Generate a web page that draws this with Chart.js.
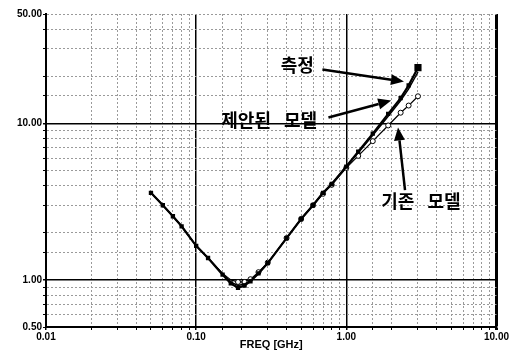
<!DOCTYPE html>
<html lang="ko">
<head>
<meta charset="UTF-8">
<title>FREQ [GHz]</title>
<script src="https://cdn.jsdelivr.net/npm/chart.js"></script>
<style>
  html, body { margin: 0; padding: 0; background: #fff; }
  #wrap { width: 510px; height: 361px; position: relative; }
</style>
</head>
<body>
<div id="wrap"><canvas id="chart"></canvas></div>
<script>
// frequency points (GHz) and the three curves
const freqs    = [0.05, 0.06, 0.07, 0.08, 0.10, 0.12, 0.15, 0.17, 0.19, 0.21, 0.23, 0.26, 0.30, 0.40, 0.50, 0.60, 0.70, 0.80, 1.00, 1.20, 1.50, 1.90, 2.30, 2.60, 3.00];
const measured = [3.6, 3.0, 2.55, 2.2, 1.65, 1.38, 1.08, 0.95, 0.89, 0.92, 0.98, 1.10, 1.28, 1.85, 2.45, 3.0, 3.6, 4.1, 5.3, 6.6, 8.6, 11.5, 14.5, 17.5, 22.7];
const proposed = [3.6, 3.0, 2.55, 2.2, 1.65, 1.38, 1.09, 0.97, 0.92, 0.94, 0.99, 1.10, 1.28, 1.85, 2.45, 3.0, 3.6, 4.1, 5.3, 6.5, 8.4, 11.1, 14.0, 16.6, 21.3];
const existing = [3.6, 3.0, 2.55, 2.2, 1.65, 1.38, 1.10, 1.00, 0.97, 0.97, 1.01, 1.12, 1.29, 1.85, 2.45, 3.0, 3.55, 4.05, 5.2, 6.2, 7.7, 9.7, 11.7, 13.0, 14.9];

const xTickLabels = ['0.01', '0.10', '1.00', '10.00'];
const yTickLabels = ['0.50', '1.00', '10.00', '50.00'];
const xTitle = 'FREQ [GHz]';

// callouts, anchored in data units (GHz, value)
const notes = [
  { text: '측정',       x: 0.366, y: 23.4, fromX: 0.693, fromY: 22.1, toX: 2.42, toY: 18.5 },
  { text: '제안된 모델', x: 0.147, y: 10.45, fromX: 0.76, fromY: 10.9, toX: 1.99, toY: 14.0 },
  { text: '기존 모델',   x: 1.71, y: 3.19, fromX: 2.46, fromY: 3.74, toX: 2.21, toY: 9.43 }
];

function pts(ys) {
  return freqs.map((f, i) => ({ x: f, y: ys[i] }));
}

function labelFor(list, v) {
  const s = list.find(l => Math.abs(Number(l) / v - 1) < 1e-6);
  return s === undefined ? '' : s;
}

function isDecade(v) {
  const l = Math.log10(v);
  return Math.abs(l - Math.round(l)) < 1e-6;
}

const tickFont = { family: '"Liberation Sans", Arial, sans-serif', size: 10, weight: 'bold' };

const callouts = {
  id: 'callouts',
  afterDatasetsDraw(chart) {
    const { ctx, scales } = chart;
    const xs = scales.x, ys = scales.y;
    ctx.save();
    ctx.fillStyle = '#000';
    ctx.strokeStyle = '#000';
    notes.forEach(n => {
      // arrow
      const x1 = xs.getPixelForValue(n.fromX), y1 = ys.getPixelForValue(n.fromY);
      const x2 = xs.getPixelForValue(n.toX), y2 = ys.getPixelForValue(n.toY);
      const a = Math.atan2(y2 - y1, x2 - x1);
      const head = 13, half = 5.5;
      const bx = x2 - head * Math.cos(a), by = y2 - head * Math.sin(a);
      ctx.lineWidth = 2.5;
      ctx.beginPath();
      ctx.moveTo(x1, y1);
      ctx.lineTo(bx, by);
      ctx.stroke();
      ctx.beginPath();
      ctx.moveTo(x2, y2);
      ctx.lineTo(bx + half * Math.sin(a), by - half * Math.cos(a));
      ctx.lineTo(bx - half * Math.sin(a), by + half * Math.cos(a));
      ctx.closePath();
      ctx.fill();

      // text, words spread a little wider like the original
      ctx.font = 'bold 18px "Noto Sans CJK KR", sans-serif';
      ctx.textBaseline = 'middle';
      ctx.textAlign = 'left';
      let tx = xs.getPixelForValue(n.x);
      const ty = ys.getPixelForValue(n.y);
      n.text.split(' ').forEach(w => {
        ctx.fillText(w, tx, ty);
        tx += ctx.measureText(w).width + 13;
      });
    });
    ctx.restore();
  }
};

new Chart(document.getElementById('chart'), {
  type: 'line',
  data: {
    datasets: [
      {
        label: '기존 모델',
        data: pts(existing),
        borderColor: '#000',
        borderWidth: 1.2,
        pointStyle: 'circle',
        pointRadius: c => (freqs[c.dataIndex] >= 0.19 ? 2.5 : 0),
        pointBackgroundColor: '#fff',
        pointBorderColor: '#000',
        pointBorderWidth: 1,
        order: 3
      },
      {
        label: '제안된 모델',
        data: pts(proposed),
        borderColor: '#000',
        borderWidth: 1.5,
        pointRadius: 0,
        order: 2
      },
      {
        label: '측정',
        data: pts(measured),
        borderColor: '#000',
        borderWidth: 2.2,
        pointStyle: 'rect',
        pointRadius: c => (c.dataIndex === freqs.length - 1 ? 3.5 : 1.5),
        pointBackgroundColor: '#000',
        pointBorderColor: '#000',
        order: 1
      }
    ]
  },
  options: {
    responsive: true,
    maintainAspectRatio: false,
    animation: false,
    layout: { padding: { top: 14, right: 12, left: 0, bottom: 0 } },
    plugins: {
      legend: { display: false },
      tooltip: { enabled: false }
    },
    scales: {
      x: {
        type: 'logarithmic',
        min: 0.01,
        max: 10,
        afterFit: s => { s.height = 34; },
        ticks: {
          autoSkip: false,
          maxRotation: 0,
          padding: 1,
          color: '#000',
          font: tickFont,
          callback: v => labelFor(xTickLabels, v)
        },
        grid: {
          color: c => (isDecade(c.tick.value) ? '#000' : '#9a9a9a'),
          lineWidth: c => (c.tick.value === 10 ? 3 : isDecade(c.tick.value) ? 1.5 : 1),
          tickLength: 3,
          tickColor: '#000'
        },
        border: {
          color: '#000',
          width: 2,
          dash: c => (c.tick && isDecade(c.tick.value) ? [] : [2, 2])
        },
        title: {
          display: true,
          text: xTitle,
          color: '#000',
          font: { family: '"Liberation Sans", Arial, sans-serif', size: 11, weight: 'bold' },
          padding: { top: 0, bottom: 9 }
        }
      },
      y: {
        type: 'logarithmic',
        min: 0.5,
        max: 50,
        afterFit: s => { s.width = 46; },
        ticks: {
          autoSkip: false,
          padding: 1,
          color: '#000',
          font: tickFont,
          callback: v => labelFor(yTickLabels, v)
        },
        grid: {
          color: c => (isDecade(c.tick.value) || c.tick.value === 0.5 ? '#000' : '#9a9a9a'),
          lineWidth: c => (isDecade(c.tick.value) ? 1.5 : 1),
          tickLength: 3,
          tickColor: '#000'
        },
        border: {
          color: '#000',
          width: 2,
          dash: c => (c.tick && isDecade(c.tick.value) ? [] : [2, 2])
        }
      }
    }
  },
  plugins: [callouts]
});
</script>
</body>
</html>
